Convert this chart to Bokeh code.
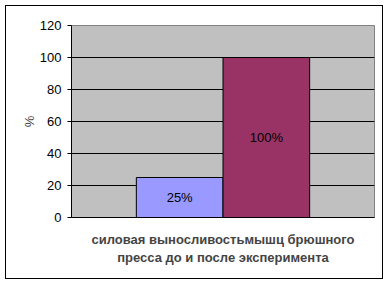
from bokeh.plotting import figure
from bokeh.models import Range1d, FixedTicker, ColumnDataSource
from bokeh.core.properties import value
from bokeh.embed import file_html
from bokeh.resources import INLINE

series = ["до", "после"]
values = [25, 100]
labels = ["25%", "100%"]
colors = ["#9999FF", "#993366"]
y_ticks = [0, 20, 40, 60, 80, 100, 120]
x_title = "силовая выносливостьмышц брюшного\nпресса до и после эксперимента"
y_title = "%"

bar_w = 0.286
xs = [0.5 + (i - (len(values) - 1) / 2) * bar_w for i in range(len(values))]
src = ColumnDataSource(dict(x=xs, top=values, label=labels, color=colors,
                            ly=[v / 2 for v in values]))

p = figure(width=378, height=274, output_backend="svg", toolbar_location=None,
           x_range=Range1d(0, 1), y_range=Range1d(0, 120),
           min_border_left=65, min_border_right=10, min_border_top=19, min_border_bottom=63)
p.margin = (5, 5, 5, 5)
p.styles = {"border": "1px solid black", "box-sizing": "border-box"}
p.background_fill_color = "#C0C0C0"
p.border_fill_color = "white"
p.outline_line_color = "#808080"
p.outline_line_width = 1

p.vbar(x="x", top="top", bottom=0, width=bar_w, fill_color="color",
       line_color="black", line_width=1, source=src)
p.text(x="x", y="ly", text="label", source=src, text_align="center",
       text_baseline="middle", text_font=value("Liberation Sans"),
       text_font_size="13px", text_color="black")

p.xgrid.visible = False
p.ygrid.ticker = FixedTicker(ticks=y_ticks)
p.ygrid.grid_line_color = "black"
p.ygrid.grid_line_width = 1

p.yaxis.ticker = FixedTicker(ticks=y_ticks)
p.yaxis.minor_tick_line_color = None
p.yaxis.major_tick_out = 4
p.yaxis.major_tick_in = 0
p.yaxis.axis_line_color = "black"
p.yaxis.major_label_text_font = "Liberation Sans"
p.yaxis.major_label_text_font_size = "13px"
p.yaxis.major_label_text_color = "black"
p.yaxis.major_label_standoff = 6
p.yaxis.axis_label = y_title
p.yaxis.axis_label_text_font = "Liberation Sans"
p.yaxis.axis_label_text_font_size = "13px"
p.yaxis.axis_label_text_font_style = "normal"
p.yaxis.axis_label_standoff = 0

p.xaxis.ticker = FixedTicker(ticks=[])
p.xaxis.major_label_text_font_size = "0px"
p.xaxis.major_tick_line_color = None
p.xaxis.minor_tick_line_color = None
p.xaxis.axis_line_color = "black"
p.xaxis.axis_label = x_title
p.xaxis.axis_label_text_font = "Liberation Sans"
p.xaxis.axis_label_text_font_size = "13px"
p.xaxis.axis_label_text_font_style = "bold"
p.xaxis.axis_label_standoff = 14
p.xaxis.axis_label_text_align = "center"

open("out.html", "w").write(file_html(p, INLINE))
